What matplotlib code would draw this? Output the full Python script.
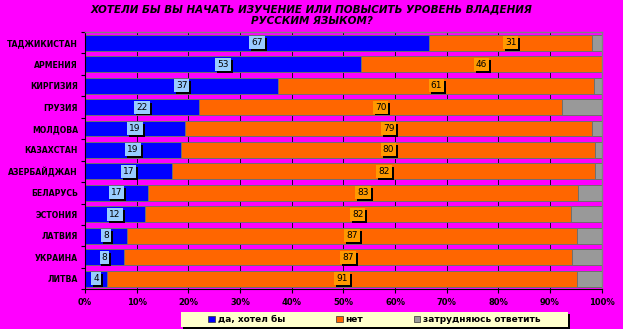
import matplotlib
matplotlib.use('Agg')
import matplotlib.pyplot as plt
import numpy as np
from matplotlib import patheffects as pe
from matplotlib.patches import Rectangle, Patch

countries = ['ТАДЖИКИСТАН', 'АРМЕНИЯ', 'КИРГИЗИЯ', 'ГРУЗИЯ', 'МОЛДОВА', 'КАЗАХСТАН',
             'АЗЕРБАЙДЖАН', 'БЕЛАРУСЬ', 'ЭСТОНИЯ', 'ЛАТВИЯ', 'УКРАИНА', 'ЛИТВА']
# bar widths (percent of 100% stacked bar)
yes = [66.6, 53.5, 37.4, 22.1, 19.4, 18.6, 16.9, 12.1, 11.6, 8.2, 7.5, 4.3]
no = [31.6, 46.5, 61.2, 70.2, 78.7, 80.2, 81.9, 83.4, 82.4, 87.0, 86.8, 90.9]
hard = [1.8, 0.0, 1.4, 7.7, 1.9, 1.2, 1.2, 4.5, 6.0, 4.8, 5.7, 4.8]
# data labels as printed on the chart
yes_labels = [67, 53, 37, 22, 19, 19, 17, 17, 12, 8, 8, 4]
no_labels = [31, 46, 61, 70, 79, 80, 82, 83, 82, 87, 87, 91]
series_names = ['да, хотел бы', 'нет', 'затрудняюсь ответить']
x_ticks = list(range(0, 101, 10))
x_ticklabels = [f'{v}%' for v in x_ticks]
title_lines = ['ХОТЕЛИ БЫ ВЫ НАЧАТЬ ИЗУЧЕНИЕ ИЛИ ПОВЫСИТЬ УРОВЕНЬ ВЛАДЕНИЯ',
               'РУССКИМ ЯЗЫКОМ?']

BG = '#FF00FF'
BLUE = '#0000FF'
ORANGE = '#FF6600'
GRAY = '#999999'
LBLUE = '#99CCFF'
LORANGE = '#FF9900'

W, H = 623, 329
fig = plt.figure(figsize=(W / 100, H / 100), dpi=100, facecolor=BG)
ax = fig.add_axes([85 / W, 1 - 289.3 / H, (601.7 - 85) / W, (289.3 - 32) / H])
ax.set_facecolor(BG)

y = np.arange(len(countries))
yes_a = np.array(yes)
no_a = np.array(no)
hard_a = np.array(hard)
h = 0.74
kw = dict(height=h, edgecolor='#6f6f6f', linewidth=0.7, zorder=2)
ax.barh(y, yes_a, color=BLUE, **kw)
ax.barh(y, no_a, left=yes_a, color=ORANGE, **kw)
ax.barh(y, hard_a, left=yes_a + no_a, color=GRAY, **kw)

ax.set_xlim(0, 100)
ax.set_ylim(len(countries) - 0.5, -0.5)
ax.set_xticks(x_ticks)
ax.set_xticklabels(x_ticklabels, fontsize=6, fontweight='bold')
ax.set_yticks(y)
ax.set_yticklabels(countries, fontsize=5.6, fontweight='bold')
ax.set_yticks(np.arange(-0.5, len(countries), 1), minor=True)
ax.tick_params(axis='y', which='major', length=0, pad=5)
ax.tick_params(axis='y', which='minor', length=3, width=0.8, color='black')
ax.tick_params(axis='x', length=3, width=0.8, pad=3.5)
ax.xaxis.grid(True, color='black', linewidth=0.6)
ax.set_axisbelow(True)
for s in ['left', 'bottom']:
    ax.spines[s].set_color('black')
    ax.spines[s].set_linewidth(0.8)
for s in ['top', 'right']:
    ax.spines[s].set_color('#808080')
    ax.spines[s].set_linewidth(1.0)

shadow = [pe.SimplePatchShadow(offset=(1.4, -1.4), shadow_rgbFace='black', alpha=1.0), pe.Normal()]
for i in range(len(countries)):
    t = ax.text(yes_a[i] / 2, i, str(yes_labels[i]), ha='center', va='center',
                fontsize=6.5, color='black', zorder=5,
                bbox=dict(boxstyle='square,pad=0.22', fc=LBLUE, ec='none'))
    t.get_bbox_patch().set_path_effects(shadow)
    t = ax.text(yes_a[i] + no_a[i] / 2, i, str(no_labels[i]), ha='center', va='center',
                fontsize=6.5, color='black', zorder=5,
                bbox=dict(boxstyle='square,pad=0.22', fc=LORANGE, ec='none'))
    t.get_bbox_patch().set_path_effects(shadow)

fig.text(0.5, 1 - 9.5 / H, title_lines[0], ha='center', va='center', fontsize=7.5,
         fontweight='bold', fontstyle='italic')
fig.text(0.5, 1 - 21.5 / H, title_lines[1], ha='center', va='center', fontsize=7.5,
         fontweight='bold', fontstyle='italic')

# legend box
box = Rectangle((180.7 / W, 1 - 326.7 / H), (568 - 180.7) / W, (326.7 - 312) / H,
                transform=fig.transFigure, fc='#FFFFCC', ec='none', zorder=3)
box.set_path_effects([pe.SimplePatchShadow(offset=(1.5, -1.5), shadow_rgbFace='black', alpha=1.0),
                      pe.Normal()])
fig.add_artist(box)
handles = [Patch(fc=c, ec='#333333', lw=0.5, label=n) for c, n in zip([BLUE, ORANGE, GRAY], series_names)]
leg = fig.legend(handles=handles, loc='center', bbox_to_anchor=(374.5 / W, 1 - 319.5 / H),
                 ncol=3, frameon=False, prop=dict(size=6.5, weight='bold'),
                 handlelength=0.75, handleheight=0.75, handletextpad=0.3, columnspacing=5.6,
                 borderpad=0.1)
leg.set_zorder(4)

fig.savefig('out.png', dpi=100, facecolor=BG)
